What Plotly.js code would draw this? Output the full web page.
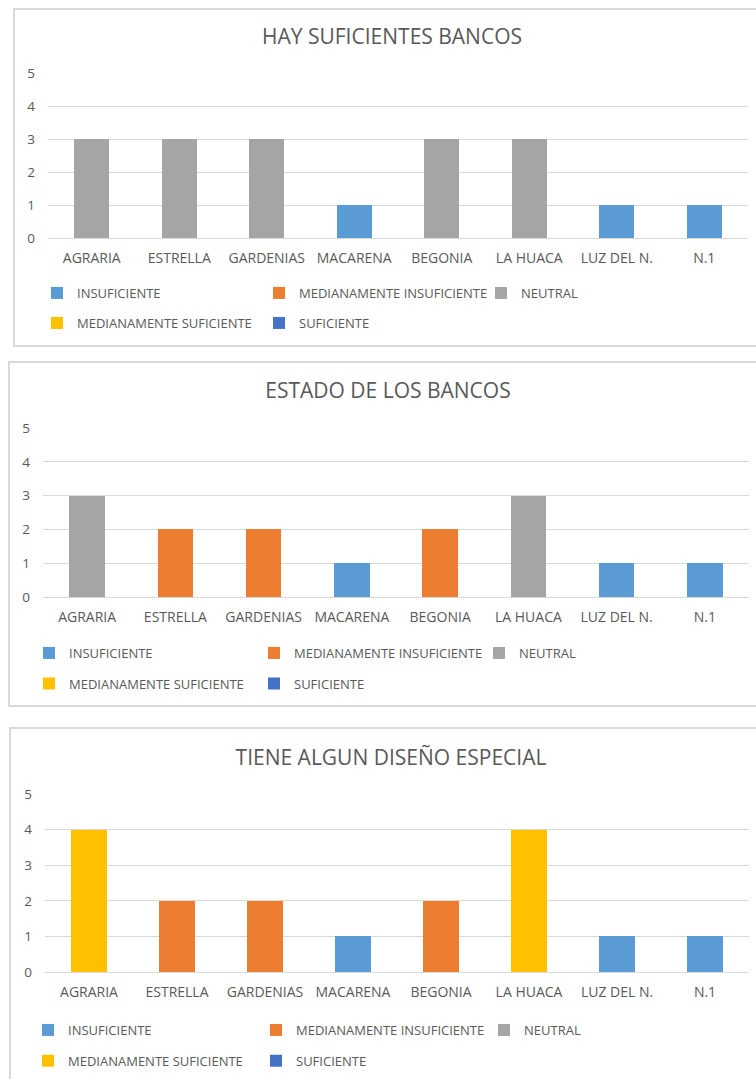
<!DOCTYPE html>
<html><head><meta charset="utf-8">
<script src="https://cdn.plot.ly/plotly-3.0.1.min.js"></script>
<style>
html,body{margin:0;padding:0;width:756px;height:1079px;overflow:hidden;background:#fff;position:relative}
.box{position:absolute;border:2px solid #d9d9d9;box-sizing:border-box;width:800px}
.plot{position:absolute;left:0;width:756px}
</style></head><body>
<div class="box" style="left:13px;top:8px;height:339px"></div>
<div class="box" style="left:8px;top:361px;height:346px"></div>
<div class="box" style="left:9px;top:727px;height:400px"></div>
<div id="c1" class="plot" style="top:8px;height:339px"></div>
<div id="c2" class="plot" style="top:361px;height:346px"></div>
<div id="c3" class="plot" style="top:727px;height:352px"></div>
<script>
// ---- data ----
const categories = ['AGRARIA','ESTRELLA','GARDENIAS','MACARENA','BEGONIA','LA HUACA','LUZ DEL N.','N.1'];
const seriesNames = ['INSUFICIENTE','MEDIANAMENTE INSUFICIENTE','NEUTRAL','MEDIANAMENTE SUFICIENTE','SUFICIENTE'];
const yTicks = [0,1,2,3,4,5];

const title1 = 'HAY SUFICIENTES BANCOS';
const hay_insuficiente      = [0,0,0,1,0,0,1,1];
const hay_medInsuficiente   = [0,0,0,0,0,0,0,0];
const hay_neutral           = [3,3,3,0,3,3,0,0];
const hay_medSuficiente     = [0,0,0,0,0,0,0,0];
const hay_suficiente        = [0,0,0,0,0,0,0,0];

const title2 = 'ESTADO DE LOS BANCOS';
const estado_insuficiente    = [0,0,0,1,0,0,1,1];
const estado_medInsuficiente = [0,2,2,0,2,0,0,0];
const estado_neutral         = [3,0,0,0,0,3,0,0];
const estado_medSuficiente   = [0,0,0,0,0,0,0,0];
const estado_suficiente      = [0,0,0,0,0,0,0,0];

const title3 = 'TIENE ALGUN DISEÑO ESPECIAL';
const diseno_insuficiente    = [0,0,0,1,0,0,1,1];
const diseno_medInsuficiente = [0,2,2,0,2,0,0,0];
const diseno_neutral         = [0,0,0,0,0,0,0,0];
const diseno_medSuficiente   = [4,0,0,0,0,4,0,0];
const diseno_suficiente      = [0,0,0,0,0,0,0,0];

// ---- styles ----
const seriesColors = ['#5B9BD5','#ED7D31','#A5A5A5','#FFC000','#4472C4'];
const FONT = 'Open Sans, sans-serif';
const TXT = '#595959';

function draw(id, title, values, g) {
  const traces = values.map((v, i) => ({
    type: 'bar', x: categories, y: v, name: seriesNames[i],
    marker: {color: seriesColors[i], line: {width: 0}},
    legend: i < 3 ? 'legend' : 'legend2',
    hoverinfo: 'skip'
  }));
  const H = g.h, W = 756;
  const legendBase = {
    orientation: 'h', xref: 'container', yref: 'container',
    xanchor: 'left', yanchor: 'middle', traceorder: 'normal',
    entrywidth: g.spacing - 45, bgcolor: 'rgba(0,0,0,0)',
    font: {family: FONT, size: 13, color: TXT}
  };
  const layout = {
    width: W, height: H,
    paper_bgcolor: 'rgba(0,0,0,0)', plot_bgcolor: 'rgba(0,0,0,0)',
    margin: {l: g.x0, r: W - g.x1, t: g.yTop, b: H - g.yBot, pad: 0},
    barmode: 'stack', bargap: 0.6,
    font: {family: FONT, size: 13, color: TXT},
    title: {text: title, font: {family: FONT, size: 21, color: TXT},
            xref: 'container', yref: 'container', x: g.titleX / W, xanchor: 'center',
            y: 1 - g.titleY / H, yanchor: 'middle'},
    xaxis: {type: 'category', showgrid: false, showline: false, zeroline: false,
            ticks: '', ticklabelstandoff: 10, tickfont: {family: FONT, size: 14, color: TXT},
            fixedrange: true},
    yaxis: {range: [0, 5], tickvals: yTicks, showgrid: true, gridcolor: '#d9d9d9', gridwidth: 1,
            zeroline: true, zerolinecolor: '#d9d9d9', zerolinewidth: 1,
            showline: false, ticks: '', ticklabelstandoff: 12,
            tickfont: {family: FONT, size: 13.5, color: TXT}, fixedrange: true},
    showlegend: true,
    legend: Object.assign({}, legendBase, {x: (g.legX - 40) / W, y: 1 - g.row1 / H}),
    legend2: Object.assign({}, legendBase, {x: (g.legX - 40) / W, y: 1 - g.row2 / H})
  };
  Plotly.newPlot(id, traces, layout, {staticPlot: true, displayModeBar: false});
}

draw('c1', title1,
  [hay_insuficiente, hay_medInsuficiente, hay_neutral, hay_medSuficiente, hay_suficiente],
  {h: 339, x0: 48.25, x1: 748.25, yTop: 65.3, yBot: 229.7, titleX: 392, titleY: 29,
   legX: 77, spacing: 222, row1: 285, row2: 315});

draw('c2', title2,
  [estado_insuficiente, estado_medInsuficiente, estado_neutral, estado_medSuficiente, estado_suficiente],
  {h: 346, x0: 43, x1: 748.6, yTop: 66.7, yBot: 235.7, titleX: 388, titleY: 30,
   legX: 69, spacing: 225, row1: 292, row2: 322.5});

draw('c3', title3,
  [diseno_insuficiente, diseno_medInsuficiente, diseno_neutral, diseno_medSuficiente, diseno_suficiente],
  {h: 352, x0: 45.3, x1: 749.3, yTop: 67.3, yBot: 244.7, titleX: 391, titleY: 30.7,
   legX: 68, spacing: 228, row1: 303, row2: 333.7});
</script>
</body></html>
